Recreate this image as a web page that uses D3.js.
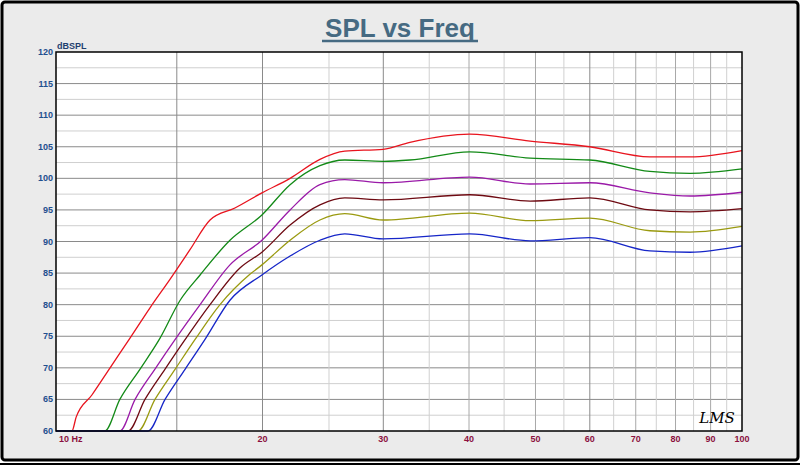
<!DOCTYPE html>
<html><head><meta charset="utf-8">
<script src="https://cdn.jsdelivr.net/npm/d3@7"></script>
<style>body{margin:0;background:#fff}</style></head>
<body><svg id="c" width="800" height="468"></svg>
<script>
const xTickLabels=[10,20,30,40,50,60,70,80,90,100];
const yTicks=[60,65,70,75,80,85,90,95,100,105,110,115,120];
const seriesColors=["#e8141e","#138a17","#9a1aa8","#6e0a12","#9a9a10","#1626c8"];
const red=[[10,60],[10.55,60],[10.7,62.2],[11.28,65.7],[11.99,70],[12.82,74.7],[13.71,79.5],[14.66,84],[15.68,88.7],[16.77,93.4],[18.23,95.3],[19.96,97.7],[21.94,100],[24.25,103],[26.36,104.3],[29.98,104.6],[32.8,105.7],[40.1,107],[49.1,105.9],[60,105],[73.4,103.4],[84,103.4],[100,104.4]];
const green=[[10,60],[11.78,60],[12.39,65],[13.26,69.8],[14.18,74.7],[15.17,80.7],[16.22,84.7],[17.93,90.2],[19.96,94.2],[21.94,99],[24.25,102],[26.36,102.9],[29.98,102.7],[32.8,102.9],[40.1,104.2],[49.1,103.2],[60,102.9],[73.4,101.1],[84,100.8],[100,101.5]];
const purple=[[10,60],[12.39,60],[13.04,65],[13.94,69.8],[14.92,74.5],[16.22,80],[17.93,86.3],[19.96,90.2],[21.94,95],[24.25,99],[26.36,99.8],[29.98,99.3],[40.1,100.2],[49.1,99.1],[60,99.3],[73.4,97.7],[84,97.2],[100,97.8]];
const brown=[[10,60],[12.74,60],[13.48,65],[14.42,69.8],[15.43,74.5],[16.77,80],[18.54,85.8],[19.96,88.3],[21.94,92.6],[24.25,95.8],[26.36,96.9],[29.98,96.6],[40.1,97.4],[49.1,96.4],[60,96.9],[73.4,95],[84,94.7],[100,95.2]];
const olive=[[10,60],[13.17,60],[13.94,65],[14.92,69.8],[15.95,74.5],[17.34,80],[19.17,84.8],[19.96,86.3],[21.94,90.2],[24.25,93.4],[26.36,94.4],[29.98,93.4],[40.1,94.5],[49.1,93.3],[60,93.7],[73.4,91.7],[84,91.5],[100,92.4]];
const blue=[[10,60],[13.62,60],[14.42,65],[15.43,69.8],[16.49,74.5],[17.93,80.7],[19.96,84.7],[21.94,87.7],[24.25,90.2],[26.36,91.2],[29.98,90.4],[40.1,91.2],[49.1,90.1],[60,90.6],[73.4,88.5],[84,88.3],[100,89.3]];
const series=[red,green,purple,brown,olive,blue];

const svg=d3.select("#c");
svg.append("rect").attr("x",2).attr("y",2).attr("width",796).attr("height",458).attr("rx",3).attr("fill","#ebebeb").attr("stroke","#000").attr("stroke-width",3);
svg.append("line").attr("x1",0).attr("x2",800).attr("y1",464).attr("y2",464).attr("stroke","#000").attr("stroke-width",2);
const L=56,R=742,T=52,B=431;
const x=d3.scaleLog().domain([10,100]).range([L,R]);
const y=d3.scaleLinear().domain([60,120]).range([B,T]);
svg.append("rect").attr("x",L).attr("y",T).attr("width",R-L).attr("height",B-T).attr("fill","#fff");
const g=svg.append("g");
for(let v=62.5;v<120;v+=2.5){g.append("line").attr("x1",L).attr("x2",R).attr("y1",y(v)).attr("y2",y(v)).attr("stroke",v%5===0?"#8a8a8a":"#cfcfcf").attr("stroke-width",1);}
for(let f=15;f<100;f+=5){const dark=[15,20,30,60].includes(f);const mid=f%10===0;g.append("line").attr("x1",x(f)).attr("x2",x(f)).attr("y1",T).attr("y2",B).attr("stroke",dark?"#8a8a8a":mid?"#a8a8a8":"#d0d0d0").attr("stroke-width",1);}
const line=d3.line().x(d=>x(d[0])).y(d=>y(d[1])).curve(d3.curveMonotoneX);
series.forEach((s,i)=>g.append("path").attr("d",line(s)).attr("fill","none").attr("stroke",seriesColors[i]).attr("stroke-width",1.3));
svg.append("rect").attr("x",L).attr("y",T).attr("width",R-L).attr("height",B-T).attr("fill","none").attr("stroke","#000").attr("stroke-width",1.5);
yTicks.forEach(v=>svg.append("text").attr("x",L-3).attr("y",y(v)+3).attr("text-anchor","end").attr("font-family","Liberation Sans Narrow, Arial Narrow, Liberation Sans").attr("font-size",9).attr("fill","#1f4f8f").attr("font-weight","bold").text(v));
svg.append("text").attr("x",L+1).attr("y",T-3).attr("font-family","Liberation Sans").attr("font-size",9).attr("fill","#1f3f6f").attr("font-weight","bold").text("dBSPL");
xTickLabels.forEach(f=>svg.append("text").attr("x",x(f)+(f===10?3:0)).attr("y",B+11).attr("text-anchor",f===10?"start":"middle").attr("font-family","Liberation Sans Narrow, Liberation Sans").attr("font-size",9).attr("font-weight","bold").attr("fill","#8b1040").text(f===10?"10  Hz":f));
svg.append("text").attr("x",400).attr("y",37).attr("text-anchor","middle").attr("font-family","Liberation Sans").attr("font-weight","bold").attr("font-size",26).attr("fill","#466a82").text("SPL vs Freq");
svg.append("line").attr("x1",322).attr("x2",478).attr("y1",41).attr("y2",41).attr("stroke","#466a82").attr("stroke-width",2.5);
svg.append("text").attr("x",717).attr("y",423).attr("text-anchor","middle").attr("font-family","DejaVu Serif").attr("font-style","italic").attr("font-size",15).attr("fill","#000").text("LMS");
</script></body></html>
